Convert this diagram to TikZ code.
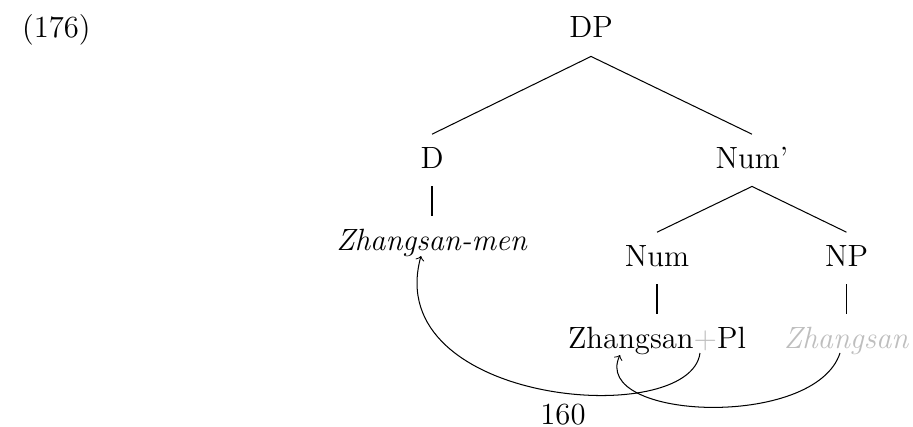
\documentclass[tikz,border=0pt]{standalone}
\usepackage{tikz}
\definecolor{lightg}{RGB}{190,190,190}
\begin{document}
\begin{tikzpicture}[x=0.3906pt,y=-0.3906pt,
  every node/.style={font=\fontsize{12}{14.4}\selectfont},
  cat/.style={anchor=base,text height=8.4pt,text depth=2.4pt,inner sep=4.6pt},
  branch/.style={line width=0.4pt},
  mv/.style={->,line width=0.4pt}]
\useasboundingbox (0,0) rectangle (913,427);
% labels
\node[anchor=base west] (ex) at (13,38) {(176)};
\node[anchor=base] (pg) at (563,424) {160};
% tree nodes
\node[cat] (dp) at (591,38) {DP};
\node[cat] (d) at (432,168) {D};
\node[cat] (numbar) at (752,168) {Num'};
\node[cat] (num) at (657,266) {Num};
\node[cat] (np) at (846.5,266) {NP};
\node[cat] (zm) at (432,250) {\textit{Zhangsan-men}};
\node[cat] (zpl) at (657,348) {Zhangsan{\color{lightg}+}Pl};
\node[cat,text=lightg] (zt) at (846.5,348) {\textit{Zhangsan}};
% branches
\draw[branch] (dp.south) -- (d.north);
\draw[branch] (dp.south) -- (numbar.north);
\draw[branch] (d.south) -- (zm.north);
\draw[branch] (numbar.south) -- (num.north);
\draw[branch] (numbar.south) -- (np.north);
\draw[branch] (num.south) -- (zpl.north);
\draw[branch] (np.south) -- (zt.north);
% movement arrows
\coordinate (a1s) at (700,353);
\coordinate (a1e) at (421,256);
\coordinate (a2s) at (840,353);
\coordinate (a2e) at (620,355);
\draw[mv] (a1s) .. controls (690,430) and (380,405) .. (a1e);
\draw[mv] (a2s) .. controls (815,430) and (590,420) .. (a2e);
\end{tikzpicture}
\end{document}
